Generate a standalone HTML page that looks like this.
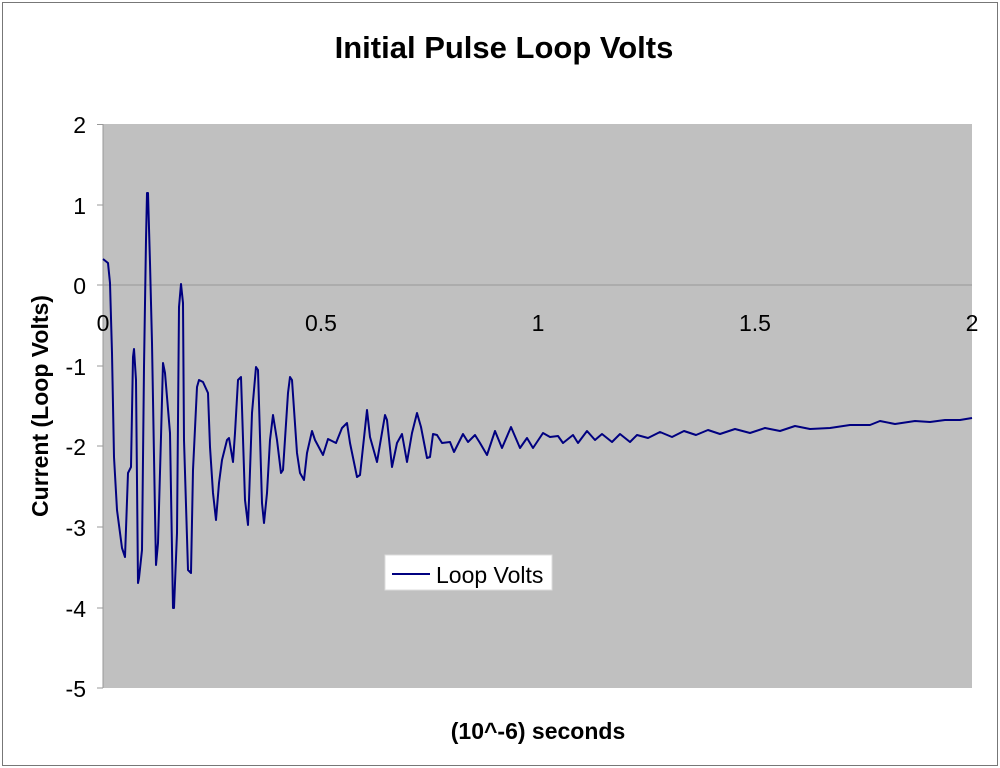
<!DOCTYPE html>
<html><head><style>body{margin:0;background:#fff}svg{display:block}</style></head>
<body>
<svg width="1000" height="768" viewBox="0 0 1000 768" xmlns="http://www.w3.org/2000/svg" font-family="Liberation Sans, Arial, sans-serif">
<rect x="0" y="0" width="1000" height="768" fill="#fff"/>
<rect x="2.5" y="2.5" width="995" height="763" fill="none" stroke="#777" stroke-width="1"/>
<rect x="103" y="124" width="869" height="564" fill="#c0c0c0"/>
<line x1="103" y1="285" x2="972" y2="285" stroke="#999" stroke-width="1"/>
<line x1="103" y1="124" x2="103" y2="688" stroke="#999" stroke-width="1"/>
<g stroke="#999" stroke-width="1">
<line x1="97" y1="124.5" x2="103" y2="124.5"/><line x1="97" y1="205" x2="103" y2="205"/><line x1="97" y1="285" x2="103" y2="285"/><line x1="97" y1="366" x2="103" y2="366"/><line x1="97" y1="446" x2="103" y2="446"/><line x1="97" y1="527" x2="103" y2="527"/><line x1="97" y1="608" x2="103" y2="608"/><line x1="97" y1="688" x2="103" y2="688"/>
</g>
<g font-size="23" text-anchor="end" fill="#000">
<text x="86" y="133">2</text><text x="86" y="214">1</text><text x="86" y="294">0</text><text x="86" y="375">-1</text><text x="86" y="455">-2</text><text x="86" y="536">-3</text><text x="86" y="617">-4</text><text x="86" y="697">-5</text>
</g>
<g font-size="23" text-anchor="middle" fill="#000">
<text x="103" y="331">0</text><text x="321" y="331">0.5</text><text x="538" y="331">1</text><text x="755" y="331">1.5</text><text x="972" y="331">2</text>
</g>
<polyline fill="none" stroke="#000080" stroke-width="2" stroke-linejoin="round" points="103,259 108,263 110,283 112,353 114,457 117,510 122,548 125,557 128,473 131,467 133,357 134,349 136,380 138,583 139,578 142,550 144,367 146,240 147,193 148,193 150,263 152,343 155,513 156,565 158,543 161,437 163,363 165,373 170,433 173,608 174,608 177,533 179,307 181,284 183,303 184,440 188,570 191,573 193,470 197,387 199,380 203,382 208,393 210,447 213,493 216,520 219,483 222,460 227,440 229,438 233,462 235,433 238,380 241,377 245,500 248,525 249,500 252,413 256,367 258,370 262,503 264,523 267,493 270,440 273,415 277,440 281,473 283,470 288,393 290,377 292,380 297,453 300,473 304,480 307,453 312,431 315,440 323,455 328,439 336,443 342,428 347,423 350,443 357,477 360,475 367,410 370,437 377,462 385,415 387,420 392,467 397,443 402,434 407,462 412,433 417,413 421,427 427,458 430,457 433,434 437,435 442,443 450,442 454,452 463,434 468,442 475,435 480,443 487,455 495,431 502,448 511,427 520,448 527,438 533,448 543,433 550,437 558,436 563,443 573,435 578,443 587,431 595,440 602,434 612,442 620,434 630,442 637,435 648,438 660,432 672,437 684,431 696,435 708,430 720,434 735,429 750,433 765,428 780,431 795,426 810,429 830,428 850,425 870,425 880,421 895,424 915,421 930,422 945,420 960,420 972,418"/>
<rect x="385" y="555" width="167" height="35" fill="#fff" stroke="#ddd" stroke-width="1"/>
<line x1="392" y1="574" x2="430" y2="574" stroke="#000080" stroke-width="2"/>
<text x="436" y="583" font-size="23" fill="#000">Loop Volts</text>
<text x="504" y="58" font-size="31" font-weight="bold" text-anchor="middle">Initial Pulse Loop Volts</text>
<text x="538" y="739" font-size="23" font-weight="bold" text-anchor="middle">(10^-6) seconds</text>
<text transform="translate(48,406) rotate(-90)" font-size="23" font-weight="bold" text-anchor="middle">Current (Loop Volts)</text>
</svg>
</body></html>
